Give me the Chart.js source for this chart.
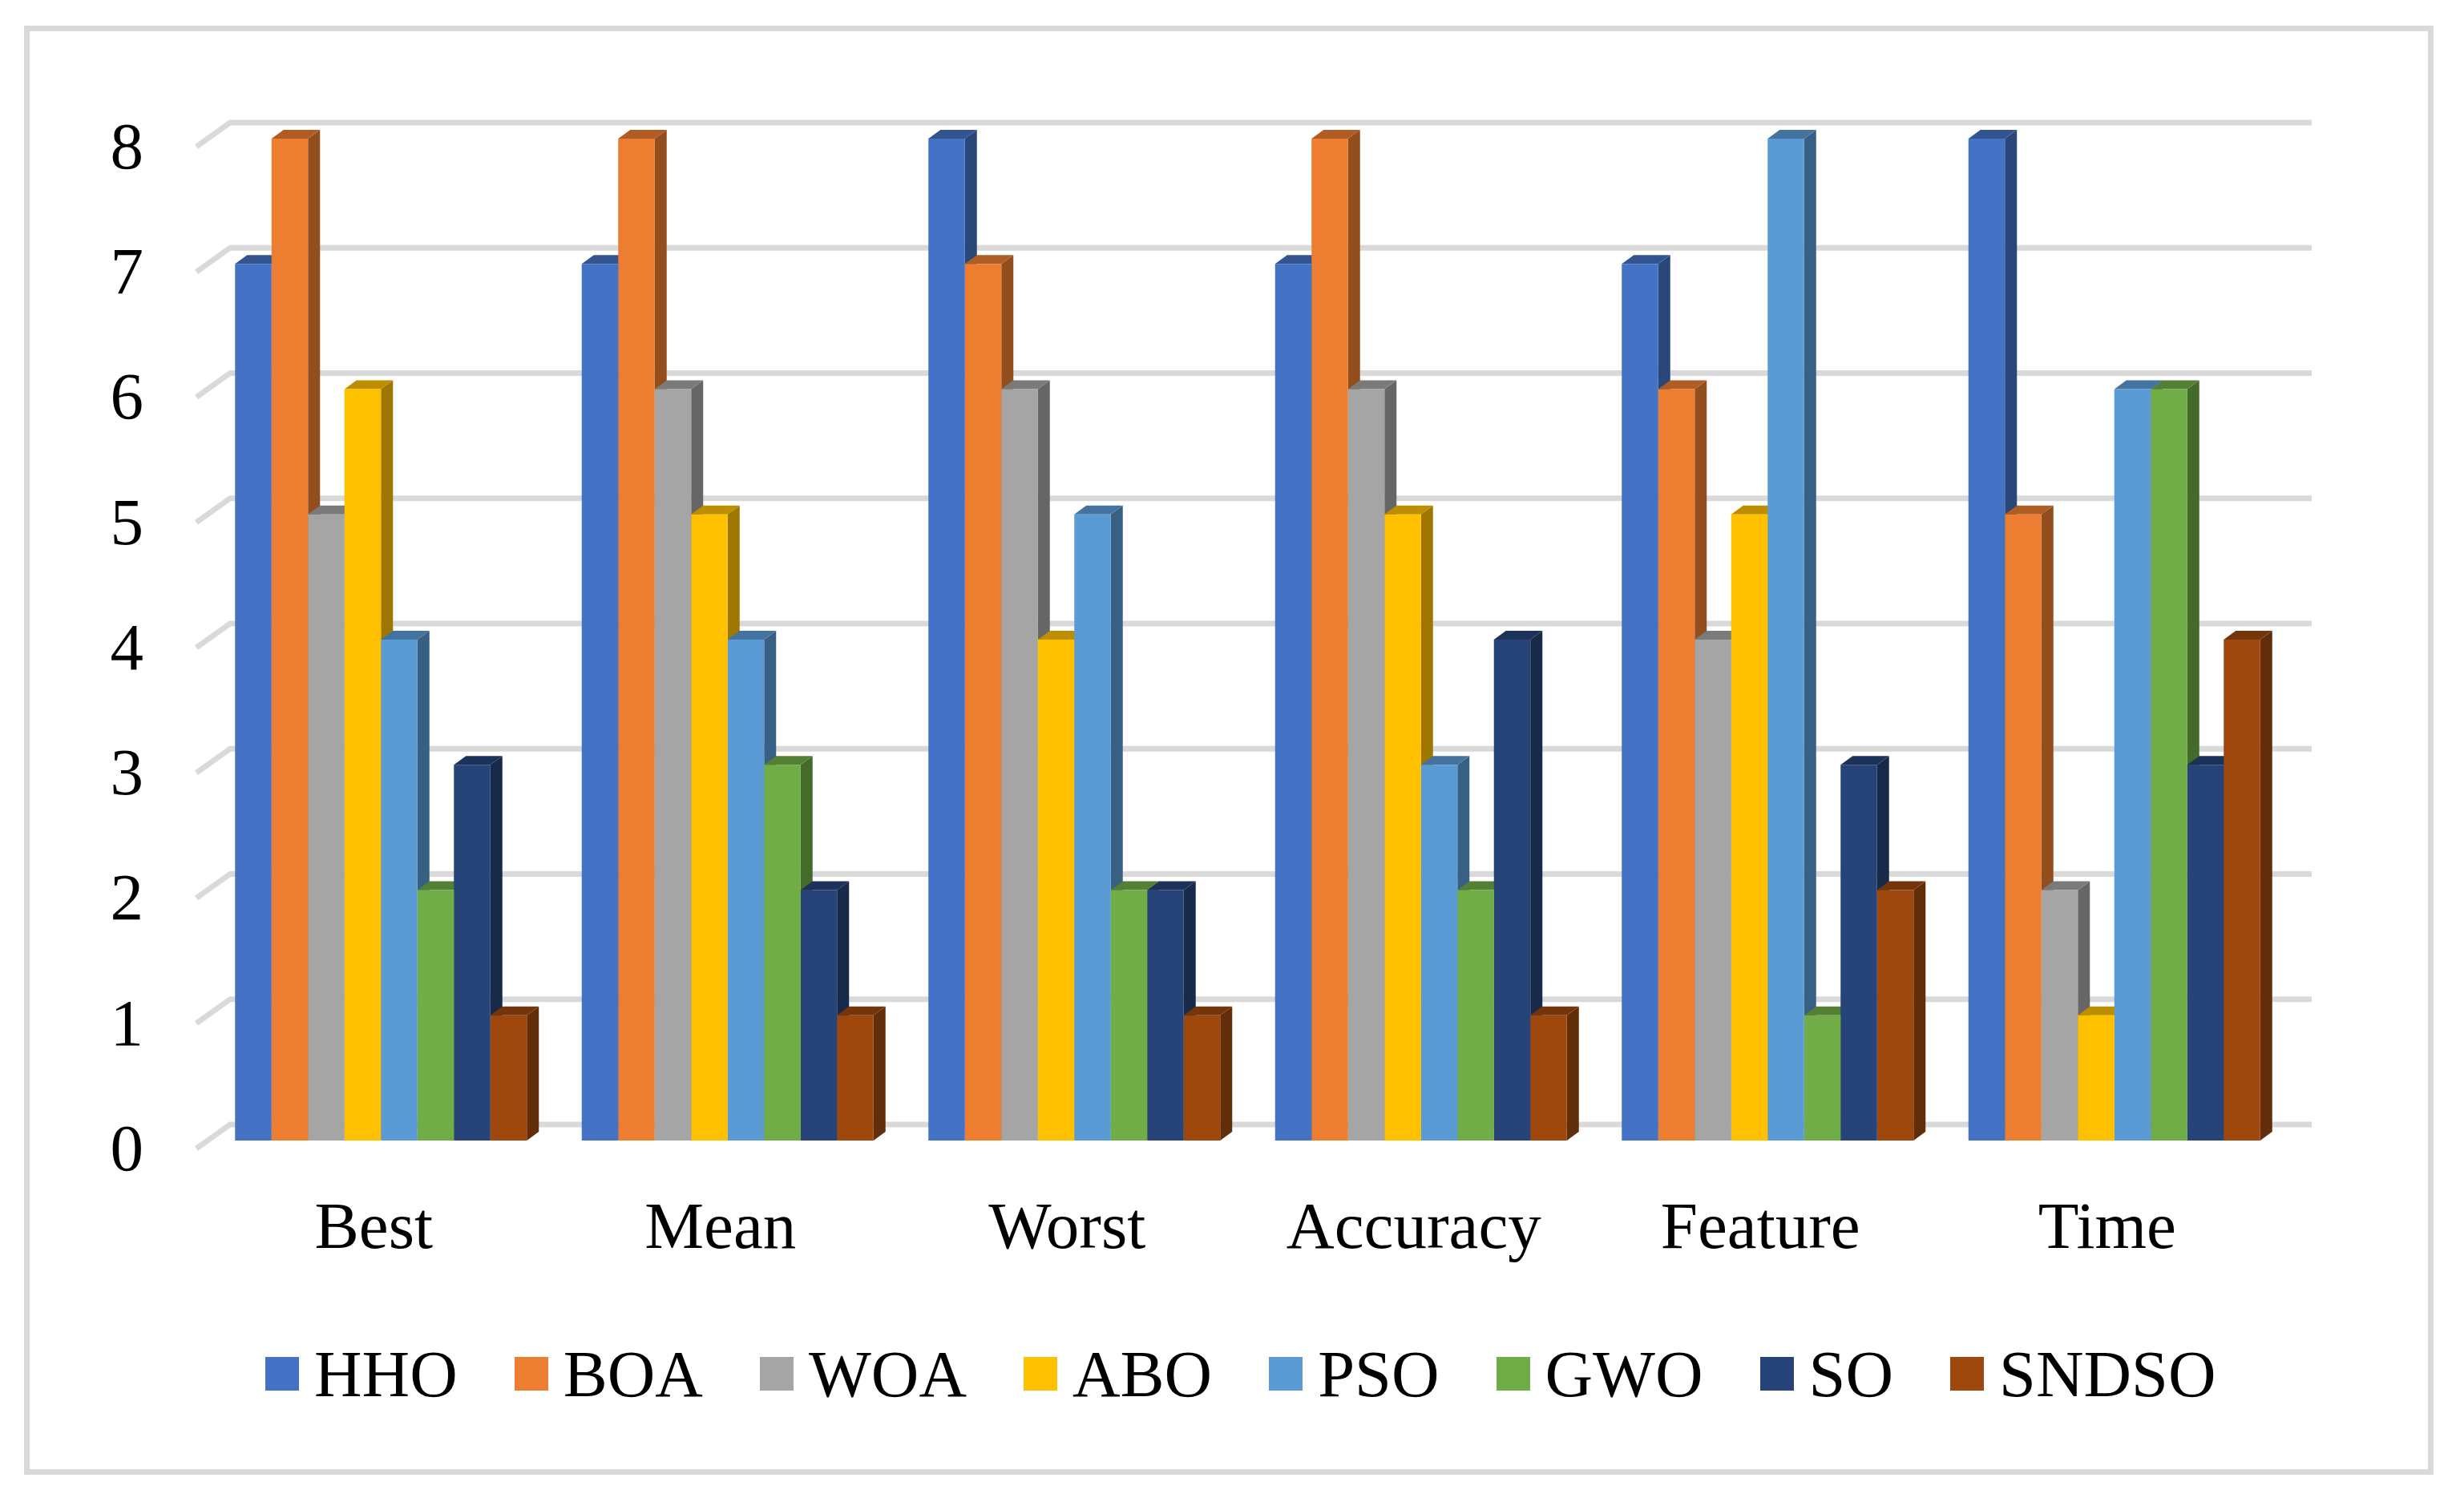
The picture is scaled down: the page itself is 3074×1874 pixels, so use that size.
<!DOCTYPE html>
<html>
<head>
<meta charset="utf-8">
<title>Algorithm ranks</title>
<script src="https://cdn.jsdelivr.net/npm/chart.js@4"></script>
<style>
    body { margin: 0; background: #fff; width: 3074px; height: 1874px; overflow: hidden; position: relative; }
    #frame { position: absolute; left: 30px; top: 32px; width: 2992px; height: 1794px; border: 7px solid #d9d9d9; }
    canvas { position: absolute; left: 0; top: 0; }
    #legend { position: absolute; left: 331px; top: 1664px; display: flex; font: 82.5px "Liberation Serif", serif; line-height: 100px; color: #000; }
    #legend div { display: flex; align-items: center; margin-right: 71px; }
    #legend span { display: block; width: 42px; height: 42px; margin-right: 19px; }
</style>
</head>
<body>
<div id="frame"></div>
<canvas id="rankChart" width="3074" height="1874"></canvas>
<div id="legend"></div>
<script>
const categories = ["Best", "Mean", "Worst", "Accuracy", "Feature", "Time"];
const yTicks = [0, 1, 2, 3, 4, 5, 6, 7, 8];

const hho = [7, 7, 8, 7, 7, 8];
const boa = [8, 8, 7, 8, 6, 5];
const woa = [5, 6, 6, 6, 4, 2];
const abo = [6, 5, 4, 5, 5, 1];
const pso = [4, 4, 5, 3, 8, 6];
const gwo = [2, 3, 2, 2, 1, 6];
const so = [3, 2, 2, 4, 3, 3];
const sndso = [1, 1, 1, 1, 2, 4];

const names = ["HHO", "BOA", "WOA", "ABO", "PSO", "GWO", "SO", "SNDSO"];
const seriesValues = [hho, boa, woa, abo, pso, gwo, so, sndso];
const colors = ["#4472C4", "#ED7D31", "#A5A5A5", "#FFC000", "#5B9BD5", "#70AD47", "#264478", "#9E480E"];

const depthX = 15;
const depthY = 11;

function shade(hex, f) {
    const n = parseInt(hex.slice(1), 16);
    const r = Math.round((n >> 16) * f);
    const g = Math.round(((n >> 8) & 255) * f);
    const b = Math.round((n & 255) * f);
    return `rgb(${r},${g},${b})`;
}

// back wall lines and the little floor ticks on the left
const wallGrid = {
    id: "wallGrid",
    beforeDatasetsDraw(chart) {
        const ctx = chart.ctx;
        const y = chart.scales.y;
        ctx.save();
        ctx.strokeStyle = "#d9d9d9";
        ctx.lineWidth = 7;
        ctx.lineJoin = "round";
        yTicks.forEach(v => {
            const p = y.getPixelForValue(v);
            ctx.beginPath();
            ctx.moveTo(245, p + 10);
            ctx.lineTo(287, p - 20);
            ctx.lineTo(2884, p - 20);
            ctx.stroke();
        });
        ctx.restore();
    }
};

// top and side faces left to right, the library draws the front faces over them
const barDepth = {
    id: "barDepth",
    beforeDatasetsDraw(chart) {
        const ctx = chart.ctx;
        names.forEach((name, i) => {
            chart.getDatasetMeta(i).data.forEach(bar => {
                const l = bar.x - bar.width / 2;
                const r = bar.x + bar.width / 2;
                const t = bar.y;
                const b = bar.base;
                ctx.fillStyle = shade(colors[i], 0.62);
                ctx.beginPath();
                ctx.moveTo(r, t);
                ctx.lineTo(r + depthX, t - depthY);
                ctx.lineTo(r + depthX, b - depthY);
                ctx.lineTo(r, b);
                ctx.closePath();
                ctx.fill();
                ctx.fillStyle = shade(colors[i], 0.74);
                ctx.beginPath();
                ctx.moveTo(l, t);
                ctx.lineTo(l + depthX, t - depthY);
                ctx.lineTo(r + depthX, t - depthY);
                ctx.lineTo(r, t);
                ctx.closePath();
                ctx.fill();
            });
        });
    }
};

const ctx = document.getElementById("rankChart").getContext("2d");
const chart = new Chart(ctx, {
    type: "bar",
    data: {
        labels: categories,
        datasets: names.map((name, i) => ({
            label: name,
            data: seriesValues[i],
            backgroundColor: colors[i],
            borderWidth: 0,
            barPercentage: 1,
            categoryPercentage: 0.8416
        }))
    },
    plugins: [wallGrid, barDepth],
    options: {
        responsive: false,
        animation: false,
        layout: { padding: { left: 0, right: 220, top: 173, bottom: 0 } },
        scales: {
            x: {
                grid: { display: false, drawTicks: false },
                border: { display: false },
                afterFit(s) { s.height = 451; },
                ticks: {
                    color: "#000",
                    font: { family: "'Liberation Serif', serif", size: 83 },
                    labelOffset: -9,
                    padding: 62,
                    maxRotation: 0,
                    autoSkip: false
                }
            },
            y: {
                min: 0,
                max: 8,
                grid: { display: false, drawTicks: false },
                border: { display: false },
                afterFit(s) { s.width = 259; },
                ticks: {
                    stepSize: 1,
                    color: "#000",
                    font: { family: "'Liberation Serif', serif", size: 83 },
                    labelOffset: 15,
                    padding: 80
                }
            }
        },
        plugins: {
            legend: { display: false },
            tooltip: { enabled: false }
        }
    }
});

const legend = document.getElementById("legend");
names.forEach((name, i) => {
    const item = document.createElement("div");
    item.innerHTML = `<span style="background:${colors[i]}"></span>${name}`;
    legend.appendChild(item);
});
</script>
</body>
</html>
